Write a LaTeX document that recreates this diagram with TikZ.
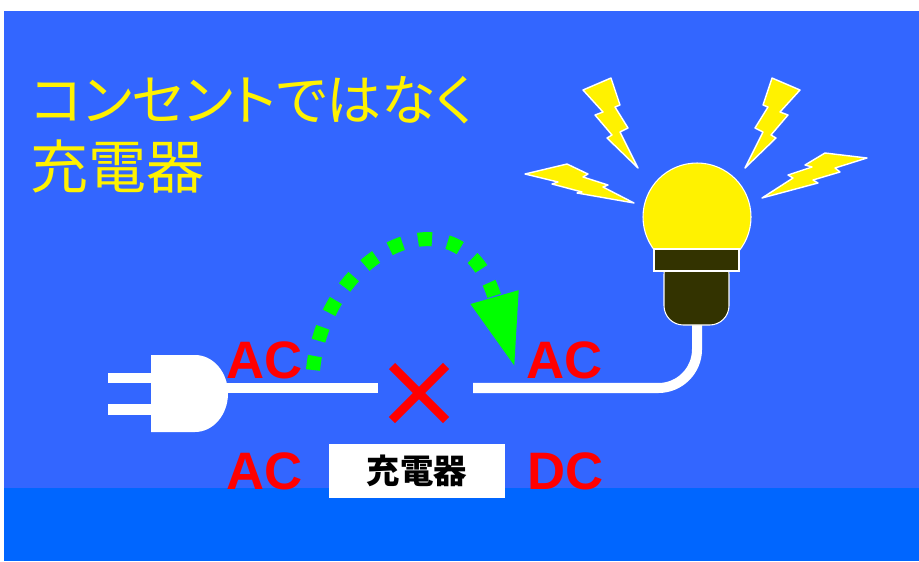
\documentclass[tikz,border=0pt]{standalone}
\usepackage{fontspec}
\setmainfont{Liberation Sans}
\newfontfamily\jpfont[RawFeature=+palt]{Noto Sans CJK JP}
\newfontfamily\jpplain{Noto Sans CJK JP}
\usetikzlibrary{arrows.meta}
\definecolor{skyblue}{HTML}{3366FF}
\definecolor{bandblue}{HTML}{0066FF}
\definecolor{socketdark}{HTML}{333300}

\begin{document}
\begin{tikzpicture}[x=0.02cm, y=-0.02cm,
    title/.style={font=\jpfont\fontsize{33}{40}\selectfont, text=yellow, inner sep=0pt},
    lbl/.style={font=\bfseries\fontsize{30}{36}\selectfont, text=red, inner sep=0pt},
    cord/.style={draw=white, line width=5.7pt},
    bolt/.style={fill=yellow, draw=white, line width=0.8pt, line join=round},
    lampline/.style={draw=white, line width=0.6pt},
    cross/.style={draw=red, line width=5pt},
    jump/.style={draw=green, line width=8pt, dash pattern=on 8pt off 9pt,
                 -{Triangle[length=42pt, width=26pt]}},
    chargerbox/.style={fill=white, minimum width=176*0.567pt, minimum height=54*0.567pt,
                       inner sep=0pt, font=\jpplain\bfseries\fontsize{19}{22}\selectfont}
]
\useasboundingbox (0,0) rectangle (919,561);
\fill[white] (0,0) rectangle (919,561);
\fill[skyblue] (4,11) rectangle (919,499);
\fill[bandblue] (4,488) rectangle (919,561);

% heading
\node[title, font=\jpfont\fontsize{31.3}{38}\selectfont, anchor=base west] (head1) at (31,120) {コンセントではなく};
\node[title, anchor=base west] (head2) at (30,188) {充電器};

% flashes round the lamp
\filldraw[bolt] (583,90) -- (611,78) -- (620,105) -- (615,107) -- (628,128) -- (620,132)
    -- (638,168) -- (607,138) -- (612,135) -- (595,115) -- (603,112) -- cycle;
\filldraw[bolt] (800,90) -- (772,78) -- (763,105) -- (768,107) -- (755,128) -- (763,132)
    -- (745,168) -- (776,138) -- (771,135) -- (788,115) -- (780,112) -- cycle;
\filldraw[bolt] (525,174) -- (567,164) -- (588,174) -- (583,177) -- (608,185) -- (603,187)
    -- (634,203) -- (577,193) -- (582,192) -- (552,184) -- (558,182) -- cycle;
\filldraw[bolt] (867,158) -- (825,153) -- (805,165) -- (812,167) -- (788,175) -- (793,178)
    -- (762,198) -- (818,183) -- (813,180) -- (840,172) -- (835,168) -- cycle;

% cord ends
\coordinate (plugtip) at (226,388);
\coordinate (cutL) at (378,388);
\coordinate (cutR) at (473,388);
\coordinate (socket) at (697,322);
\coordinate (jumpstart) at (313,370);
\coordinate (jumpend) at (515,368);

\draw[cord] (plugtip) -- (cutL);
\draw[cord, rounded corners=22pt] (cutR) -- (697,388) -- (socket);

% lamp
\filldraw[fill=yellow, lampline] (697,217) circle[radius=54];
\filldraw[fill=socketdark, lampline, rounded corners=11pt] (664,255) rectangle (729,325);
\filldraw[fill=socketdark, lampline] (654,249) rectangle (739,271);

% plug
\fill[white] (108,373) rectangle (155,383);
\fill[white] (108,404) rectangle (155,415);
\fill[white] (151,355) -- (195,355) arc[start angle=-90, end angle=90, x radius=33, y radius=38.5]
    -- (151,432) -- cycle;

% cut mark
\draw[cross] (392,366) -- (446,420);
\draw[cross] (392,420) -- (446,366);

% bypass arrow
\draw[jump] (jumpstart) .. controls (325,248) and (462,184) .. (jumpend);

% labels
\node[lbl, anchor=base west] (acin) at (226,378) {AC};
\node[lbl, anchor=base west] (acout) at (526,378) {AC};
\node[lbl, anchor=base west] (acsrc) at (226,489) {AC};
\node[lbl, anchor=base west] (dcout) at (527,489) {DC};
\node[chargerbox] (charger) at (417,471) {充電器};
\end{tikzpicture}
\end{document}
